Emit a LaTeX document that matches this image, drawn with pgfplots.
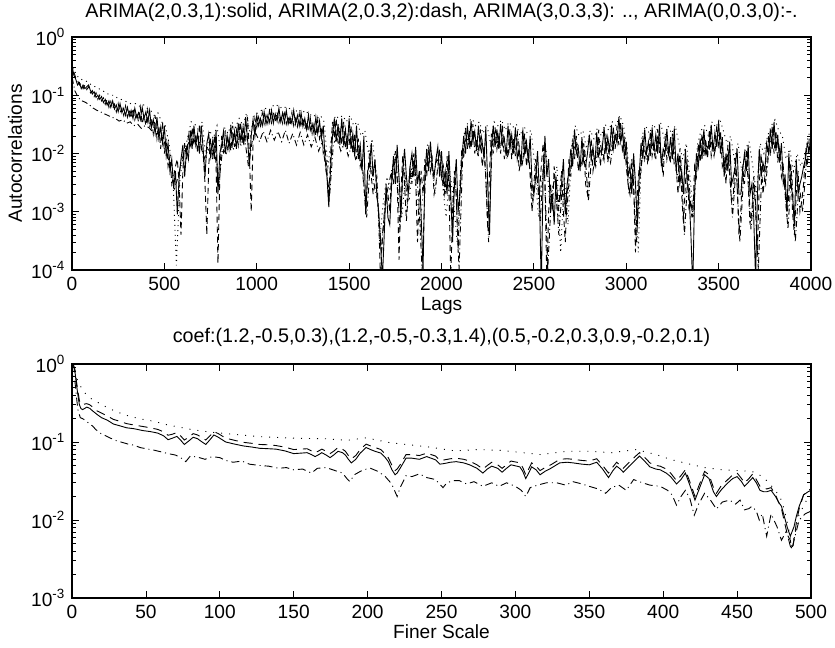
\documentclass[border=0pt]{standalone}
\usepackage{pgfplots}
\pgfplotsset{compat=1.18}
\usepackage{fontspec}
\setmainfont{Liberation Sans}
\setsansfont{Liberation Sans}
\newcommand{\tf}{\fontsize{19.2}{22}\selectfont}
\newcommand{\ttl}{\fontsize{19.8}{23}\selectfont}
\pgfplotsset{
 mystyle/.style={
  scale only axis, width=739bp,
  no marks,
  axis line style={line width=1.1bp},
  tick align=inside, tick pos=both,
  major tick length=7bp, minor tick length=4bp,
  tick style={black, line width=0.8bp},
  tick label style={font=\tf},
  xticklabel style={yshift=-3.6bp},
  yticklabel style={xshift=-3.6bp},
  label style={font=\tf},
  xlabel style={at={(axis description cs:0.5,0)}, anchor=north, yshift=-23.6bp},
  title style={font=\ttl, at={(0.5,1)}, anchor=base, inner sep=0pt},
  /pgf/number format/assume math mode=true,
 },
 s1/.style={black, line width=0.9bp, solid},
 s2/.style={black, line width=0.9bp, dash pattern=on 6bp off 4bp},
 s3/.style={black, line width=0.9bp, dash pattern=on 1bp off 4bp},
 s4/.style={black, line width=0.9bp, dash pattern=on 6bp off 3bp on 1bp off 3bp},
}
\begin{document}
\begin{tikzpicture}
\path[use as bounding box] (0,0) rectangle (835bp,648bp);
\begin{semilogyaxis}[mystyle, at={(72bp,378bp)}, anchor=south west, height=233bp,
  xmin=0, xmax=4000, ymin=1e-4, ymax=1,
  xtick={0,500,1000,1500,2000,2500,3000,3500,4000},
  xticklabels={0,500,1000,1500,2000,2500,3000,3500,4000},
  ytick={1e-4,1e-3,1e-2,1e-1,1},
  yticklabels={10\textsuperscript{-4},10\textsuperscript{-3},10\textsuperscript{-2},10\textsuperscript{-1},10\textsuperscript{0}},
  minor ytick={2e-4,3e-4,4e-4,5e-4,6e-4,7e-4,8e-4,9e-4,2e-3,3e-3,4e-3,5e-3,6e-3,7e-3,8e-3,9e-3,2e-2,3e-2,4e-2,5e-2,6e-2,7e-2,8e-2,9e-2,2e-1,3e-1,4e-1,5e-1,6e-1,7e-1,8e-1,9e-1},
  xlabel={Lags}, ylabel={Autocorrelations},
  ylabel style={at={(axis description cs:-0.077,0.5)}, anchor=center},
  title={ARIMA(2,0.3,1):solid, ARIMA(2,0.3,2):dash, ARIMA(3,0.3,3): .., ARIMA(0,0.3,0):-.},
  title style={yshift=14bp},
]
\addplot[s1] coordinates {(0,0.33)(10,0.22)(20,0.19)(30,0.15)(40,0.165)(50,0.13)(60,0.15)(70,0.13)(80,0.14)(90,0.15)(100,0.12)(110,0.105)(120,0.115)(130,0.092)(140,0.1)(150,0.085)(160,0.095)(170,0.075)(180,0.085)(190,0.068)(200,0.08)(210,0.062)(220,0.08)(230,0.058)(240,0.068)(250,0.052)(260,0.072)(270,0.05)(280,0.06)(290,0.045)(300,0.062)(310,0.044)(320,0.055)(330,0.04)(340,0.06)(350,0.042)(360,0.05)(370,0.038)(380,0.062)(390,0.04)(400,0.052)(410,0.035)(420,0.055)(430,0.028)(440,0.038)(450,0.022)(460,0.042)(470,0.018)(480,0.028)(490,0.015)(500,0.03)(510,0.009)(520,0.015)(530,0.005)(540,0.008)(550,0.0025)(560,0.005)(570,0.0009)(580,0.004)(590,0.008)(600,0.014)(610,0.004)(620,0.012)(630,0.008)(640,0.025)(650,0.012)(660,0.03)(670,0.014)(680,0.022)(690,0.01)(700,0.03)(710,0.012)(720,0.004)(730,0.015)(740,0.022)(750,0.009)(760,0.016)(770,0.008)(780,0.025)(790,0.002)(800,0.01)(810,0.014)(820,0.024)(830,0.01)(840,0.02)(850,0.012)(860,0.03)(870,0.014)(880,0.024)(890,0.012)(900,0.033)(910,0.016)(920,0.028)(930,0.014)(940,0.042)(950,0.018)(960,0.006)(970,0.02)(980,0.038)(990,0.02)(1000,0.045)(1010,0.03)(1020,0.04)(1030,0.03)(1040,0.052)(1050,0.032)(1060,0.045)(1070,0.034)(1080,0.055)(1090,0.033)(1100,0.048)(1110,0.036)(1120,0.06)(1130,0.035)(1140,0.05)(1150,0.034)(1160,0.055)(1170,0.032)(1180,0.042)(1190,0.033)(1200,0.055)(1210,0.032)(1220,0.045)(1230,0.03)(1240,0.05)(1250,0.029)(1260,0.04)(1270,0.026)(1280,0.046)(1290,0.025)(1300,0.032)(1310,0.022)(1320,0.042)(1330,0.022)(1340,0.036)(1350,0.018)(1360,0.03)(1370,0.008)(1380,0.004)(1390,0.0012)(1400,0.006)(1410,0.02)(1420,0.04)(1430,0.016)(1440,0.032)(1450,0.014)(1460,0.04)(1470,0.015)(1480,0.026)(1490,0.012)(1500,0.04)(1510,0.012)(1520,0.022)(1530,0.009)(1540,0.03)(1550,0.008)(1560,0.014)(1570,0.005)(1580,0.02)(1590,0.0009)(1600,0.005)(1610,0.006)(1620,0.015)(1630,0.004)(1640,0.008)(1650,0.002)(1660,0.001)(1670,0.0003)(1680,0.00007)(1690,0.0004)(1700,0.003)(1710,0.0008)(1720,0.0006)(1730,0.003)(1740,0.009)(1750,0.003)(1760,0.014)(1770,0.004)(1780,0.0008)(1790,0.005)(1800,0.012)(1810,0.004)(1820,0.002)(1830,0.006)(1840,0.01)(1850,0.004)(1860,0.013)(1870,0.003)(1880,0.005)(1890,0.0008)(1900,0.0001)(1910,0.004)(1920,0.012)(1930,0.005)(1940,0.016)(1950,0.006)(1960,0.004)(1970,0.008)(1980,0.013)(1990,0.004)(2000,0.011)(2010,0.003)(2020,0.005)(2030,0.002)(2040,0.011)(2050,0.002)(2060,0.0003)(2070,0.003)(2080,0.008)(2090,0.001)(2100,0.002)(2110,0.008)(2120,0.02)(2130,0.01)(2140,0.03)(2150,0.014)(2160,0.036)(2170,0.016)(2180,0.024)(2190,0.011)(2200,0.03)(2210,0.012)(2220,0.016)(2230,0.008)(2240,0.028)(2250,0.003)(2260,0.0004)(2270,0.012)(2280,0.03)(2290,0.013)(2300,0.026)(2310,0.012)(2320,0.032)(2330,0.014)(2340,0.018)(2350,0.009)(2360,0.03)(2370,0.012)(2380,0.021)(2390,0.01)(2400,0.028)(2410,0.008)(2420,0.012)(2430,0.006)(2440,0.026)(2450,0.01)(2460,0.016)(2470,0.007)(2480,0.02)(2490,0.003)(2500,0.002)(2510,0.004)(2520,0.011)(2530,0.002)(2540,0.00005)(2550,0.004)(2560,0.02)(2570,0.004)(2580,0.008)(2590,0.001)(2600,0.002)(2610,0.0006)(2620,0.004)(2630,0.0015)(2640,0.0015)(2650,0.003)(2660,0.008)(2670,0.0009)(2680,0.003)(2690,0.005)(2700,0.012)(2710,0.006)(2720,0.026)(2730,0.01)(2740,0.013)(2750,0.005)(2760,0.019)(2770,0.007)(2780,0.006)(2790,0.01)(2800,0.021)(2810,0.008)(2820,0.013)(2830,0.006)(2840,0.023)(2850,0.009)(2860,0.011)(2870,0.012)(2880,0.028)(2890,0.01)(2900,0.019)(2910,0.011)(2920,0.031)(2930,0.012)(2940,0.021)(2950,0.015)(2960,0.042)(2970,0.016)(2980,0.026)(2990,0.008)(3000,0.016)(3010,0.004)(3020,0.006)(3030,0.002)(3040,0.01)(3050,0.003)(3060,0.0006)(3070,0.004)(3080,0.015)(3090,0.008)(3100,0.026)(3110,0.01)(3120,0.016)(3130,0.009)(3140,0.028)(3150,0.011)(3160,0.021)(3170,0.01)(3180,0.031)(3190,0.006)(3200,0.012)(3210,0.01)(3220,0.026)(3230,0.009)(3240,0.019)(3250,0.008)(3260,0.027)(3270,0.005)(3280,0.01)(3290,0.003)(3300,0.005)(3310,0.002)(3320,0.012)(3330,0.003)(3340,0.002)(3350,0.0004)(3360,0.00005)(3370,0.002)(3380,0.01)(3390,0.006)(3400,0.018)(3410,0.008)(3420,0.026)(3430,0.01)(3440,0.013)(3450,0.012)(3460,0.031)(3470,0.011)(3480,0.023)(3490,0.013)(3500,0.036)(3510,0.01)(3520,0.019)(3530,0.004)(3540,0.01)(3550,0.005)(3560,0.016)(3570,0.003)(3580,0.004)(3590,0.006)(3600,0.012)(3610,0.002)(3620,0.002)(3630,0.005)(3640,0.01)(3650,0.005)(3660,0.014)(3670,0.002)(3680,0.003)(3690,0.0008)(3700,0.00007)(3710,0.002)(3720,0.012)(3730,0.004)(3740,0.007)(3750,0.005)(3760,0.015)(3770,0.01)(3780,0.026)(3790,0.012)(3800,0.035)(3810,0.011)(3820,0.021)(3830,0.007)(3840,0.015)(3850,0.003)(3860,0.004)(3870,0.001)(3880,0.01)(3890,0.003)(3900,0.002)(3910,0.0006)(3920,0.008)(3930,0.002)(3940,0.003)(3950,0.004)(3960,0.006)(3970,0.008)(3980,0.015)(3990,0.011)(4000,0.021)};
\addplot[s2] coordinates {(10,0.25)(20,0.2)(30,0.18)(40,0.15)(50,0.16)(60,0.13)(70,0.15)(80,0.125)(90,0.14)(100,0.11)(110,0.12)(120,0.095)(130,0.11)(140,0.085)(150,0.1)(160,0.08)(170,0.09)(180,0.07)(190,0.085)(200,0.062)(210,0.078)(220,0.058)(230,0.07)(240,0.052)(250,0.072)(260,0.05)(270,0.06)(280,0.045)(290,0.065)(300,0.042)(310,0.055)(320,0.04)(330,0.06)(340,0.038)(350,0.05)(360,0.035)(370,0.062)(380,0.032)(390,0.045)(400,0.03)(410,0.055)(420,0.028)(430,0.04)(440,0.022)(450,0.045)(460,0.018)(470,0.03)(480,0.012)(490,0.035)(500,0.01)(510,0.018)(520,0.006)(530,0.009)(540,0.003)(550,0.004)(560,0.006)(570,0.008)(580,0.003)(590,0.0004)(600,0.005)(610,0.015)(620,0.008)(630,0.02)(640,0.012)(650,0.028)(660,0.014)(670,0.022)(680,0.01)(690,0.032)(700,0.012)(710,0.01)(720,0.003)(730,0.0004)(740,0.006)(750,0.018)(760,0.008)(770,0.02)(780,0.006)(790,0.00013)(800,0.004)(810,0.02)(820,0.01)(830,0.025)(840,0.012)(850,0.018)(860,0.011)(870,0.03)(880,0.013)(890,0.025)(900,0.014)(910,0.035)(920,0.015)(930,0.028)(940,0.016)(950,0.042)(960,0.01)(970,0.001)(980,0.015)(990,0.04)(1000,0.028)(1010,0.042)(1020,0.03)(1030,0.05)(1040,0.032)(1050,0.045)(1060,0.033)(1070,0.058)(1080,0.034)(1090,0.05)(1100,0.035)(1110,0.052)(1120,0.034)(1130,0.045)(1140,0.033)(1150,0.055)(1160,0.032)(1170,0.042)(1180,0.03)(1190,0.05)(1200,0.03)(1210,0.04)(1220,0.029)(1230,0.048)(1240,0.028)(1250,0.042)(1260,0.026)(1270,0.035)(1280,0.024)(1290,0.04)(1300,0.022)(1310,0.032)(1320,0.02)(1330,0.038)(1340,0.018)(1350,0.025)(1360,0.01)(1370,0.012)(1380,0.005)(1390,0.0015)(1400,0.01)(1410,0.035)(1420,0.018)(1430,0.04)(1440,0.015)(1450,0.028)(1460,0.014)(1470,0.035)(1480,0.012)(1490,0.02)(1500,0.014)(1510,0.03)(1520,0.01)(1530,0.022)(1540,0.008)(1550,0.018)(1560,0.006)(1570,0.008)(1580,0.003)(1590,0.0009)(1600,0.004)(1610,0.01)(1620,0.004)(1630,0.002)(1640,0.003)(1650,0.004)(1660,0.0008)(1670,0.00006)(1680,0.0004)(1690,0.0008)(1700,0.0015)(1710,0.002)(1720,0.001)(1730,0.005)(1740,0.003)(1750,0.011)(1760,0.004)(1770,0.00015)(1780,0.002)(1790,0.009)(1800,0.003)(1810,0.0007)(1820,0.002)(1830,0.006)(1840,0.003)(1850,0.01)(1860,0.004)(1870,0.0003)(1880,0.002)(1890,0.005)(1900,0.002)(1910,0.008)(1920,0.004)(1930,0.013)(1940,0.005)(1950,0.008)(1960,0.002)(1970,0.003)(1980,0.006)(1990,0.012)(2000,0.004)(2010,0.006)(2020,0.002)(2030,0.009)(2040,0.003)(2050,0.00007)(2060,0.001)(2070,0.005)(2080,0.002)(2090,0.0002)(2100,0.003)(2110,0.012)(2120,0.008)(2130,0.028)(2140,0.012)(2150,0.025)(2160,0.012)(2170,0.032)(2180,0.01)(2190,0.018)(2200,0.009)(2210,0.026)(2220,0.006)(2230,0.01)(2240,0.004)(2250,0.0005)(2260,0.005)(2270,0.022)(2280,0.01)(2290,0.028)(2300,0.012)(2310,0.02)(2320,0.01)(2330,0.03)(2340,0.008)(2350,0.014)(2360,0.009)(2370,0.026)(2380,0.008)(2390,0.018)(2400,0.009)(2410,0.025)(2420,0.005)(2430,0.008)(2440,0.007)(2450,0.022)(2460,0.006)(2470,0.012)(2480,0.004)(2490,0.001)(2500,0.003)(2510,0.008)(2520,0.003)(2530,0.002)(2540,0.006)(2550,0.015)(2560,0.003)(2570,0.00007)(2580,0.001)(2590,0.003)(2600,0.001)(2610,0.006)(2620,0.002)(2630,0.0008)(2640,0.002)(2650,0.005)(2660,0.001)(2670,0.0003)(2680,0.002)(2690,0.008)(2700,0.004)(2710,0.018)(2720,0.008)(2730,0.02)(2740,0.005)(2750,0.008)(2760,0.006)(2770,0.015)(2780,0.003)(2790,0.002)(2800,0.007)(2810,0.018)(2820,0.005)(2830,0.008)(2840,0.009)(2850,0.025)(2860,0.006)(2870,0.014)(2880,0.008)(2890,0.022)(2900,0.007)(2910,0.012)(2920,0.011)(2930,0.028)(2940,0.012)(2950,0.03)(2960,0.014)(2970,0.035)(2980,0.01)(2990,0.02)(3000,0.006)(3010,0.003)(3020,0.002)(3030,0.008)(3040,0.003)(3050,0.0002)(3060,0.002)(3070,0.006)(3080,0.005)(3090,0.02)(3100,0.008)(3110,0.012)(3120,0.007)(3130,0.024)(3140,0.009)(3150,0.015)(3160,0.008)(3170,0.026)(3180,0.01)(3190,0.008)(3200,0.004)(3210,0.02)(3220,0.008)(3230,0.014)(3240,0.007)(3250,0.022)(3260,0.006)(3270,0.006)(3280,0.002)(3290,0.012)(3300,0.002)(3310,0.0006)(3320,0.003)(3330,0.008)(3340,0.001)(3350,0.0015)(3360,0.0008)(3370,0.006)(3380,0.004)(3390,0.015)(3400,0.007)(3410,0.022)(3420,0.009)(3430,0.018)(3440,0.008)(3450,0.026)(3460,0.009)(3470,0.015)(3480,0.01)(3490,0.03)(3500,0.012)(3510,0.025)(3520,0.006)(3530,0.008)(3540,0.003)(3550,0.014)(3560,0.004)(3570,0.0015)(3580,0.002)(3590,0.009)(3600,0.003)(3610,0.0004)(3620,0.001)(3630,0.006)(3640,0.003)(3650,0.012)(3660,0.003)(3670,0.0006)(3680,0.001)(3690,0.004)(3700,0.001)(3710,0.0002)(3720,0.003)(3730,0.01)(3740,0.002)(3750,0.004)(3760,0.006)(3770,0.02)(3780,0.009)(3790,0.03)(3800,0.01)(3810,0.025)(3820,0.007)(3830,0.012)(3840,0.004)(3850,0.006)(3860,0.002)(3870,0.0008)(3880,0.002)(3890,0.007)(3900,0.001)(3910,0.0004)(3920,0.002)(3930,0.005)(3940,0.001)(3950,0.0015)(3960,0.003)(3970,0.01)(3980,0.006)(3990,0.018)};
\addplot[s3] coordinates {(5,0.3)(25,0.22)(45,0.19)(65,0.18)(85,0.17)(105,0.15)(125,0.14)(145,0.13)(165,0.12)(185,0.11)(205,0.1)(225,0.1)(245,0.09)(265,0.085)(285,0.08)(305,0.075)(325,0.07)(345,0.072)(365,0.065)(385,0.07)(405,0.06)(425,0.055)(445,0.045)(465,0.05)(485,0.035)(505,0.03)(525,0.015)(545,0.005)(565,0.00012)(585,0.004)(605,0.01)(625,0.018)(645,0.035)(665,0.032)(685,0.025)(705,0.035)(725,0.008)(745,0.025)(765,0.018)(785,0.03)(805,0.01)(825,0.028)(845,0.022)(865,0.035)(885,0.028)(905,0.04)(925,0.03)(945,0.05)(965,0.02)(985,0.045)(1005,0.05)(1025,0.055)(1045,0.06)(1065,0.055)(1085,0.065)(1105,0.07)(1125,0.06)(1145,0.065)(1165,0.058)(1185,0.06)(1205,0.05)(1225,0.058)(1245,0.05)(1265,0.055)(1285,0.045)(1305,0.048)(1325,0.04)(1345,0.045)(1365,0.035)(1385,0.006)(1405,0.02)(1425,0.045)(1445,0.04)(1465,0.045)(1485,0.035)(1505,0.045)(1525,0.03)(1545,0.035)(1565,0.02)(1585,0.025)(1605,0.01)(1625,0.018)(1645,0.005)(1665,0.0003)(1685,0.0015)(1705,0.004)(1725,0.002)(1745,0.01)(1765,0.006)(1785,0.0008)(1805,0.004)(1825,0.0015)(1845,0.008)(1865,0.002)(1885,0.0006)(1905,0.003)(1925,0.015)(1945,0.01)(1965,0.002)(1985,0.008)(2005,0.003)(2025,0.0008)(2045,0.005)(2065,0.0015)(2085,0.0003)(2105,0.004)(2125,0.025)(2145,0.035)(2165,0.04)(2185,0.03)(2205,0.035)(2225,0.022)(2245,0.032)(2265,0.015)(2285,0.035)(2305,0.03)(2325,0.038)(2345,0.025)(2365,0.035)(2385,0.028)(2405,0.032)(2425,0.02)(2445,0.03)(2465,0.022)(2485,0.025)(2505,0.006)(2525,0.0008)(2545,0.004)(2565,0.012)(2585,0.0015)(2605,0.003)(2625,0.006)(2645,0.0002)(2665,0.004)(2685,0.0006)(2705,0.015)(2725,0.03)(2745,0.02)(2765,0.025)(2785,0.012)(2805,0.025)(2825,0.018)(2845,0.028)(2865,0.02)(2885,0.032)(2905,0.025)(2925,0.035)(2945,0.03)(2965,0.045)(2985,0.03)(3005,0.012)(3025,0.002)(3045,0.006)(3065,0.0002)(3085,0.02)(3105,0.03)(3125,0.022)(3145,0.032)(3165,0.025)(3185,0.035)(3205,0.018)(3225,0.03)(3245,0.022)(3265,0.03)(3285,0.015)(3305,0.008)(3325,0.015)(3345,0.004)(3365,0.0008)(3385,0.014)(3405,0.025)(3425,0.03)(3445,0.02)(3465,0.035)(3485,0.028)(3505,0.04)(3525,0.025)(3545,0.015)(3565,0.02)(3585,0.008)(3605,0.015)(3625,0.005)(3645,0.012)(3665,0.016)(3685,0.006)(3705,0.002)(3725,0.015)(3745,0.01)(3765,0.02)(3785,0.03)(3805,0.038)(3825,0.025)(3845,0.02)(3865,0.008)(3885,0.012)(3905,0.005)(3925,0.01)(3945,0.006)(3965,0.009)(3985,0.02)(4000,0.025)};
\addplot[s4] coordinates {(1,0.2)(15,0.12)(35,0.09)(55,0.08)(75,0.075)(95,0.068)(115,0.06)(135,0.055)(155,0.052)(175,0.048)(195,0.045)(215,0.042)(235,0.04)(255,0.036)(275,0.038)(295,0.033)(315,0.035)(335,0.03)(355,0.032)(375,0.027)(395,0.03)(415,0.028)(435,0.024)(455,0.026)(475,0.02)(495,0.018)(515,0.01)(535,0.005)(555,0.0025)(575,0.004)(595,0.008)(615,0.012)(635,0.016)(655,0.018)(675,0.014)(695,0.016)(715,0.008)(735,0.012)(755,0.01)(775,0.014)(795,0.003)(815,0.012)(835,0.01)(855,0.015)(875,0.012)(895,0.016)(915,0.014)(935,0.018)(955,0.006)(975,0.016)(995,0.022)(1015,0.016)(1035,0.024)(1055,0.016)(1075,0.025)(1095,0.017)(1115,0.024)(1135,0.016)(1155,0.025)(1175,0.015)(1195,0.022)(1215,0.014)(1235,0.023)(1255,0.014)(1275,0.021)(1295,0.013)(1315,0.019)(1335,0.011)(1355,0.016)(1375,0.005)(1395,0.002)(1415,0.015)(1435,0.018)(1455,0.011)(1475,0.016)(1495,0.009)(1515,0.014)(1535,0.008)(1555,0.011)(1575,0.004)(1595,0.0008)(1615,0.007)(1635,0.003)(1655,0.0015)(1675,0.0002)(1695,0.0015)(1715,0.003)(1735,0.006)(1755,0.008)(1775,0.0005)(1795,0.007)(1815,0.0015)(1835,0.005)(1855,0.008)(1875,0.002)(1895,0.0001)(1915,0.006)(1935,0.01)(1955,0.004)(1975,0.008)(1995,0.006)(2015,0.002)(2035,0.007)(2055,0.0008)(2075,0.004)(2095,0.0001)(2115,0.01)(2135,0.02)(2155,0.012)(2175,0.025)(2195,0.01)(2215,0.02)(2235,0.008)(2255,0.0003)(2275,0.016)(2295,0.02)(2315,0.012)(2335,0.022)(2355,0.008)(2375,0.018)(2395,0.01)(2415,0.018)(2435,0.006)(2455,0.015)(2475,0.007)(2495,0.0015)(2515,0.005)(2535,0.0007)(2555,0.01)(2575,0.0001)(2595,0.002)(2615,0.004)(2635,0.0004)(2655,0.003)(2675,0.0008)(2695,0.005)(2715,0.012)(2735,0.015)(2755,0.006)(2775,0.012)(2795,0.0015)(2815,0.012)(2835,0.006)(2855,0.018)(2875,0.008)(2895,0.016)(2915,0.007)(2935,0.02)(2955,0.022)(2975,0.025)(2995,0.012)(3015,0.002)(3035,0.005)(3055,0.0003)(3075,0.004)(3095,0.014)(3115,0.007)(3135,0.018)(3155,0.009)(3175,0.02)(3195,0.006)(3215,0.015)(3235,0.008)(3255,0.017)(3275,0.004)(3295,0.008)(3315,0.0004)(3335,0.005)(3355,0.0008)(3375,0.004)(3395,0.011)(3415,0.016)(3435,0.01)(3455,0.02)(3475,0.009)(3495,0.022)(3515,0.017)(3535,0.005)(3555,0.009)(3575,0.0008)(3595,0.006)(3615,0.0003)(3635,0.004)(3655,0.008)(3675,0.0005)(3695,0.003)(3715,0.0001)(3735,0.007)(3755,0.003)(3775,0.014)(3795,0.022)(3815,0.018)(3835,0.008)(3855,0.004)(3875,0.0005)(3895,0.005)(3915,0.0003)(3935,0.003)(3955,0.001)(3975,0.007)(3995,0.015)};
\end{semilogyaxis}
\begin{semilogyaxis}[mystyle, at={(72bp,50bp)}, anchor=south west, height=234bp,
  xmin=0, xmax=500, ymin=1e-3, ymax=1,
  xtick={0,50,100,150,200,250,300,350,400,450,500},
  xticklabels={0,50,100,150,200,250,300,350,400,450,500},
  ytick={1e-3,1e-2,1e-1,1},
  yticklabels={10\textsuperscript{-3},10\textsuperscript{-2},10\textsuperscript{-1},10\textsuperscript{0}},
  minor ytick={2e-3,3e-3,4e-3,5e-3,6e-3,7e-3,8e-3,9e-3,2e-2,3e-2,4e-2,5e-2,6e-2,7e-2,8e-2,9e-2,2e-1,3e-1,4e-1,5e-1,6e-1,7e-1,8e-1,9e-1},
  xlabel={Finer Scale},
  title={coef:(1.2,-0.5,0.3),(1.2,-0.5,-0.3,1.4),(0.5,-0.2,0.3,0.9,-0.2,0.1)},
  title style={yshift=16bp},
]
\addplot[s1, line width=0.9bp] coordinates {(0,1.0)(1,0.95)(2,0.8)(3,0.55)(4,0.4)(5,0.3)(6,0.27)(7,0.26)(8,0.265)(10,0.28)(12,0.27)(14,0.25)(17,0.225)(20,0.205)(24,0.19)(28,0.17)(32,0.162)(37,0.152)(42,0.148)(48,0.14)(53,0.136)(58,0.13)(62,0.12)(65,0.107)(68,0.112)(71,0.118)(74,0.103)(76,0.093)(79,0.103)(82,0.115)(85,0.11)(88,0.1)(90.5,0.093)(93,0.105)(96,0.123)(99,0.115)(104,0.1)(110,0.094)(116,0.089)(122,0.086)(127,0.083)(133,0.082)(138,0.081)(144,0.077)(150,0.071)(155,0.072)(159,0.073)(162,0.069)(164.5,0.065)(167,0.069)(169,0.073)(172,0.068)(174.6,0.063)(177,0.068)(180,0.076)(183,0.073)(185,0.068)(187,0.06)(189,0.054)(192,0.06)(195,0.072)(199,0.085)(202,0.08)(205,0.076)(209,0.072)(212,0.063)(214,0.056)(216.5,0.044)(218.6,0.038)(220,0.04)(222,0.046)(226,0.062)(230,0.062)(235,0.06)(240,0.065)(246,0.059)(249,0.052)(252,0.053)(256,0.055)(260,0.056)(265,0.054)(269,0.051)(274,0.046)(278,0.04)(281,0.045)(284,0.049)(288,0.046)(291,0.041)(294,0.046)(297,0.051)(303,0.048)(305,0.042)(307,0.034)(309,0.04)(311,0.048)(314,0.044)(316.7,0.038)(320,0.042)(324,0.046)(330,0.054)(335,0.055)(339,0.054)(345,0.052)(350,0.051)(355,0.055)(359,0.045)(363,0.035)(366,0.043)(368.5,0.049)(371,0.045)(373,0.041)(377,0.049)(381,0.058)(384,0.066)(387,0.058)(391,0.048)(395,0.045)(398,0.044)(402,0.04)(405,0.036)(409,0.029)(412,0.033)(415,0.04)(418,0.028)(421.5,0.018)(424,0.024)(428,0.038)(431,0.034)(434,0.023)(436,0.02)(439,0.024)(443,0.029)(447,0.034)(450,0.036)(453,0.031)(455,0.027)(458,0.031)(460.6,0.035)(463,0.03)(465.5,0.024)(468,0.023)(470,0.023)(473,0.024)(476,0.02)(478,0.017)(480,0.015)(482,0.011)(484,0.008)(486,0.0062)(488.5,0.0082)(490,0.011)(492,0.015)(495,0.021)(498,0.023)(500,0.024)};
\addplot[s2, line width=0.9bp, dash pattern=on 9bp off 6bp] coordinates {(0,1.0)(1,0.97)(2,0.85)(3,0.6)(4,0.45)(5,0.34)(6,0.31)(7,0.3)(8,0.305)(10,0.31)(12,0.3)(14,0.28)(17,0.25)(20,0.235)(24,0.215)(28,0.195)(32,0.185)(37,0.172)(42,0.165)(48,0.158)(53,0.152)(58,0.145)(62,0.135)(65,0.122)(68,0.126)(71,0.132)(74,0.117)(76,0.106)(79,0.115)(82,0.128)(85,0.123)(88,0.113)(90.5,0.106)(93,0.118)(96,0.136)(99,0.128)(104,0.112)(110,0.105)(116,0.099)(122,0.096)(127,0.093)(133,0.092)(138,0.09)(144,0.086)(150,0.08)(155,0.081)(159,0.082)(162,0.077)(164.5,0.073)(167,0.077)(169,0.081)(172,0.076)(174.6,0.071)(177,0.076)(180,0.085)(183,0.081)(185,0.076)(187,0.067)(189,0.061)(192,0.067)(195,0.08)(199,0.094)(202,0.089)(205,0.085)(209,0.08)(212,0.07)(214,0.063)(216.5,0.05)(218.6,0.043)(220,0.045)(222,0.051)(226,0.069)(230,0.069)(235,0.067)(240,0.072)(246,0.066)(249,0.058)(252,0.059)(256,0.061)(260,0.062)(265,0.06)(269,0.057)(274,0.051)(278,0.045)(281,0.05)(284,0.055)(288,0.051)(291,0.046)(294,0.051)(297,0.057)(303,0.054)(305,0.047)(307,0.038)(309,0.045)(311,0.054)(314,0.049)(316.7,0.043)(320,0.047)(324,0.051)(330,0.06)(335,0.061)(339,0.06)(345,0.058)(350,0.057)(355,0.061)(359,0.05)(363,0.04)(366,0.048)(368.5,0.055)(371,0.05)(373,0.046)(377,0.055)(381,0.065)(384,0.073)(387,0.065)(391,0.054)(395,0.05)(398,0.049)(402,0.045)(405,0.04)(409,0.032)(412,0.037)(415,0.044)(418,0.031)(421.5,0.02)(424,0.027)(428,0.042)(431,0.038)(434,0.026)(436,0.022)(439,0.027)(443,0.032)(447,0.038)(450,0.04)(453,0.034)(455,0.03)(458,0.034)(460.6,0.039)(463,0.033)(465.5,0.027)(468,0.026)(470,0.025)(473,0.026)(476,0.021)(478,0.017)(480,0.014)(482,0.0095)(484,0.0065)(486,0.0046)(487.5,0.0042)(489,0.0065)(490,0.009)(492,0.014)(495,0.021)(498,0.024)(500,0.025)};
\addplot[s3, line width=0.9bp, dash pattern=on 1bp off 7bp] coordinates {(0,1.0)(2,0.78)(4,0.6)(6,0.51)(9,0.42)(13,0.36)(19,0.31)(25,0.27)(30,0.245)(36,0.222)(42,0.207)(48,0.195)(55,0.185)(65,0.165)(75,0.152)(82,0.143)(95,0.133)(110,0.125)(127,0.117)(150,0.112)(172,0.11)(186,0.105)(199,0.113)(215,0.098)(240,0.087)(259,0.077)(275,0.08)(290,0.078)(305,0.073)(317,0.069)(335,0.076)(350,0.076)(365,0.073)(382,0.08)(395,0.069)(406,0.059)(418,0.052)(428,0.047)(440,0.044)(451,0.043)(460,0.042)(466,0.037)(470,0.032)(475,0.025)(479,0.02)(482,0.0135)(485,0.0075)(487,0.0046)(489,0.0065)(492,0.012)(495,0.015)(497,0.018)(500,0.02)};
\addplot[s4, line width=0.9bp, dash pattern=on 8bp off 4bp on 1bp off 4bp] coordinates {(0,1.0)(1,0.7)(2,0.6)(3,0.38)(4,0.26)(5.6,0.205)(7,0.2)(9,0.19)(12,0.17)(14,0.16)(16,0.145)(19,0.13)(22,0.122)(26,0.112)(30,0.104)(33,0.1)(38,0.094)(42,0.091)(46,0.085)(50,0.082)(55,0.079)(60,0.075)(65,0.071)(70,0.068)(73,0.064)(77,0.056)(80,0.066)(85,0.064)(90,0.06)(95,0.065)(100,0.063)(104,0.058)(109,0.055)(115,0.057)(120,0.052)(127,0.05)(133,0.049)(140,0.046)(145,0.047)(150,0.044)(156,0.045)(162,0.04)(166,0.046)(172,0.047)(178,0.043)(183,0.04)(186,0.034)(188,0.031)(191,0.038)(197,0.044)(202,0.046)(207,0.042)(212,0.036)(215,0.031)(217,0.027)(220,0.02)(222,0.026)(226,0.037)(230,0.036)(235,0.039)(240,0.035)(246,0.033)(251,0.026)(253,0.029)(257,0.032)(262,0.032)(267,0.029)(272,0.031)(278,0.027)(284,0.03)(289,0.027)(294,0.03)(300,0.027)(304,0.024)(307,0.02)(310,0.026)(315,0.028)(321,0.03)(328,0.03)(334,0.028)(339,0.031)(345,0.029)(350,0.027)(356,0.025)(361,0.022)(365,0.026)(370,0.028)(375,0.024)(380,0.033)(386,0.03)(391,0.028)(398,0.027)(403,0.024)(406,0.021)(409,0.0155)(412,0.02)(415,0.024)(418,0.019)(421,0.0115)(424,0.016)(428,0.022)(432,0.018)(436,0.0138)(440,0.017)(445,0.018)(449,0.016)(452,0.018)(455,0.0135)(458,0.014)(460,0.015)(463,0.013)(465,0.01)(467,0.012)(470,0.0062)(473,0.012)(477,0.0082)(480,0.0055)(483,0.007)(486,0.0055)(487,0.0042)(489,0.006)(492,0.01)(496,0.012)(500,0.013)};
\end{semilogyaxis}
\end{tikzpicture}
\end{document}
